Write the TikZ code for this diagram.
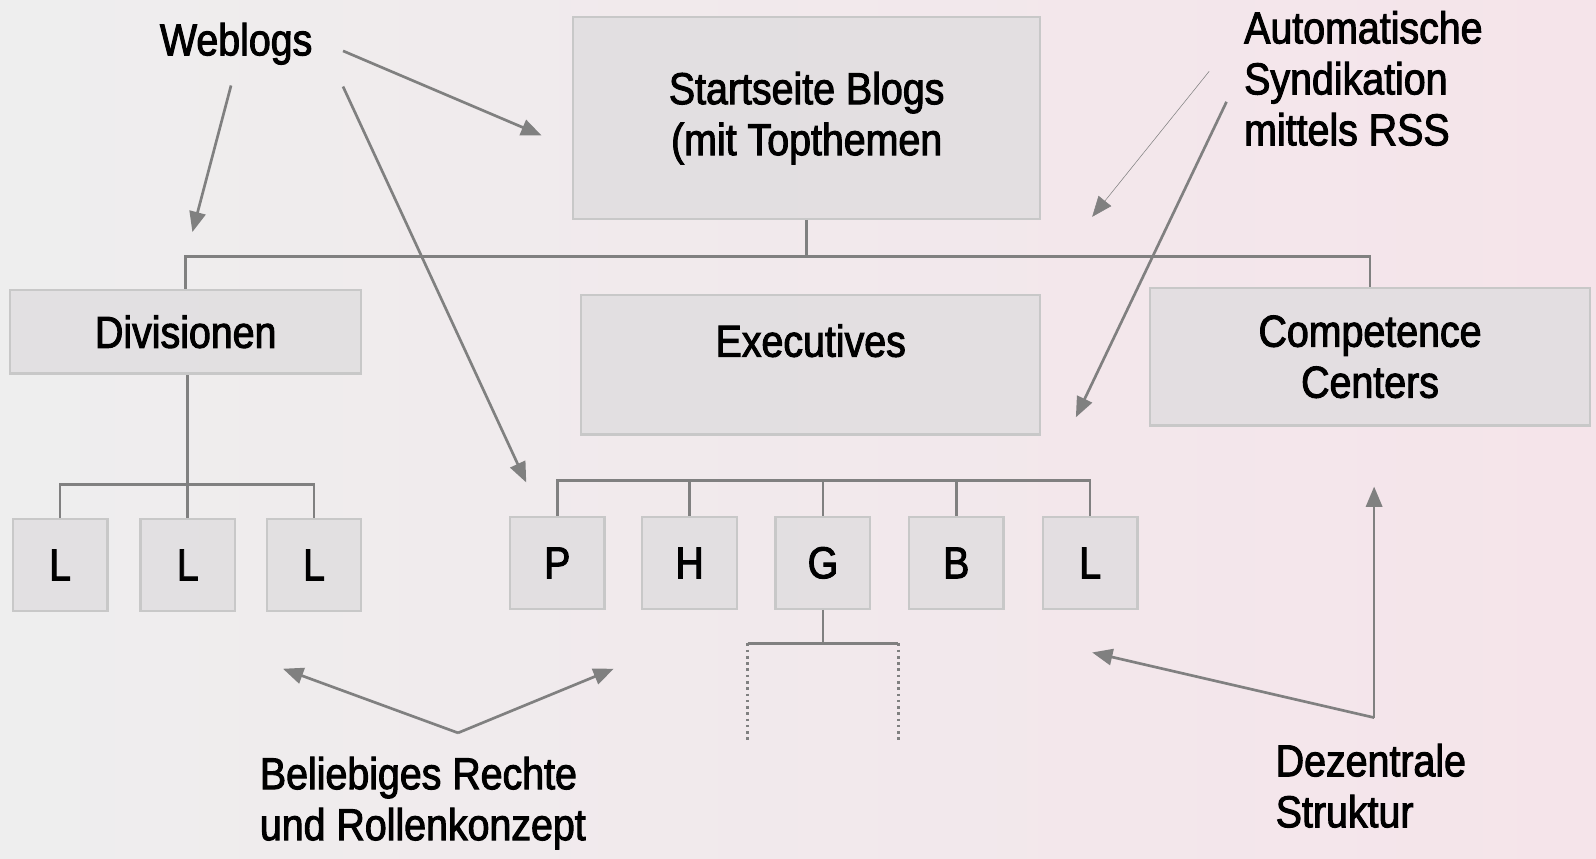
\documentclass[tikz,border=0pt]{standalone}
\usepackage{fontspec}
\setmainfont[FakeStretch=0.88, FakeBold=2.2]{Liberation Sans}
\usepackage{tikz}
\usetikzlibrary{positioning,arrows.meta}
\definecolor{LineGray}{RGB}{128,128,128}
\definecolor{BoxFill}{RGB}{222,220,222}
\definecolor{BoxDraw}{RGB}{200,200,200}
\definecolor{BgLeft}{RGB}{238,238,238}
\definecolor{BgRight}{RGB}{245,228,234}

\begin{document}
\begin{tikzpicture}[
        x=0.02cm, y=-0.02cm,
        % --- STYLE CHUNG ---
        common/.style={
            rectangle,
            draw=BoxDraw,        % Rahmen hellgrau
            line width=1.3pt,
            fill=BoxFill,
            fill opacity=0.75,
            text opacity=1,
            inner sep=0pt,
            font=\fontsize{25}{28.5}\selectfont
        },
        % Grosse Kaesten
        box_node/.style={
            common,
            align=center
        },
        % Kleine Kaesten (Buchstaben)
        letter_node/.style={
            common,
            minimum width=1.86cm,
            minimum height=1.8cm
        },
        % Freie Beschriftung
        label_text/.style={
            align=left,
            inner sep=0pt,
            font=\fontsize{25}{28.5}\selectfont
        },
        % Verbindungslinien
        link_line/.style={
            draw=LineGray,
            line width=1.5pt
        },
        % Pfeile
        arrow_line/.style={
            draw=LineGray,
            line width=1.5pt,
            -{Triangle[length=0.4cm,width=0.32cm]}
        }
    ]

        % --- HINTERGRUND ---
        \shade[left color=BgLeft, right color=BgRight] (0,0) rectangle (1568,843);

        % --- KAESTEN ---
        \node[box_node, minimum width=9.18cm, minimum height=3.96cm]
            (start) at (792.5,116) {Startseite Blogs\\(mit Topthemen};
        \node[box_node, minimum width=6.9cm, minimum height=1.64cm]
            (div) at (182.5,326) {Divisionen};
        \node[box_node, minimum width=9.02cm, minimum height=2.74cm, text depth=0.96cm]
            (exec) at (796.5,358.5) {Executives};
        \node[box_node, minimum width=8.64cm, minimum height=2.7cm]
            (comp) at (1346,350.5) {Competence\\Centers};

        % Buchstaben links
        \foreach \name/\xx in {la/59, lb/184.5, lc/308.5}
            \node[letter_node] (\name) at (\xx,555) {L};

        % Buchstaben Mitte
        \foreach \name/\txt/\xx in {p/P/547.5, h/H/677.5, g/G/808.5, b/B/939.5, l/L/1071}
            \node[letter_node] (\name) at (\xx,553) {\txt};

        % --- VERBINDUNGEN ---
        \draw[link_line] (start.south) -- ++(0,36) coordinate (bus);
        \draw[link_line] (div.north) |- (bus) -| (comp.north);

        \draw[link_line] (lb.north) -- (lb.north |- div.south);
        \draw[link_line] (la.north) -- ++(0,-33) -| (lc.north);

        \draw[link_line] (p.north) -- ++(0,-35) -| (l.north);
        \foreach \n in {h, g, b}
            \draw[link_line] (\n.north) -- ++(0,-35);

        \draw[link_line] (g.south) -- ++(0,33) coordinate (gbus);
        \draw[link_line] ([xshift=-1.48cm]gbus) -- ([xshift=1.48cm]gbus);
        \draw[link_line, dotted] ([xshift=-1.48cm]gbus) -- ++(0,97);
        \draw[link_line, dotted] ([xshift=1.48cm]gbus) -- ++(0,97);

        % --- BESCHRIFTUNGEN ---
        \node[label_text] (weblogs) at (232,43) {Weblogs};
        \node[label_text, anchor=west] (rss) at (1222,77) {Automatische\\Syndikation\\mittels RSS};
        \node[label_text, anchor=west] (rechte) at (255,789) {Beliebiges Rechte\\und Rollenkonzept};
        \node[label_text, anchor=west] (dezentral) at (1253,772) {Dezentrale\\Struktur};

        % --- PFEILE ---
        \coordinate (w1) at (227,84);   \coordinate (w1e) at (189,228);
        \coordinate (w2) at (337,50);   \coordinate (w2e) at (532,133);
        \coordinate (w3) at (337,85);   \coordinate (w3e) at (517,474);
        \draw[arrow_line] (w1) -- (w1e);
        \draw[arrow_line] (w2) -- (w2e);
        \draw[arrow_line] (w3) -- (w3e);

        \coordinate (r1) at (1188,70);  \coordinate (r1e) at (1073,213);
        \coordinate (r2) at (1205,100); \coordinate (r2e) at (1057,410);
        \draw[arrow_line, line width=0.3pt] (r1) -- (r1e);
        \draw[arrow_line] (r2) -- (r2e);

        \coordinate (k) at (450,720);
        \coordinate (k1) at (278,657);  \coordinate (k2) at (603,657);
        \draw[arrow_line] (k) -- (k1);
        \draw[arrow_line] (k) -- (k2);

        \coordinate (d) at (1350,705);
        \coordinate (d1) at (1350,478); \coordinate (d2) at (1073,641);
        \draw[arrow_line] (d) -- (d1);
        \draw[arrow_line] (d) -- (d2);

    \end{tikzpicture}
\end{document}
